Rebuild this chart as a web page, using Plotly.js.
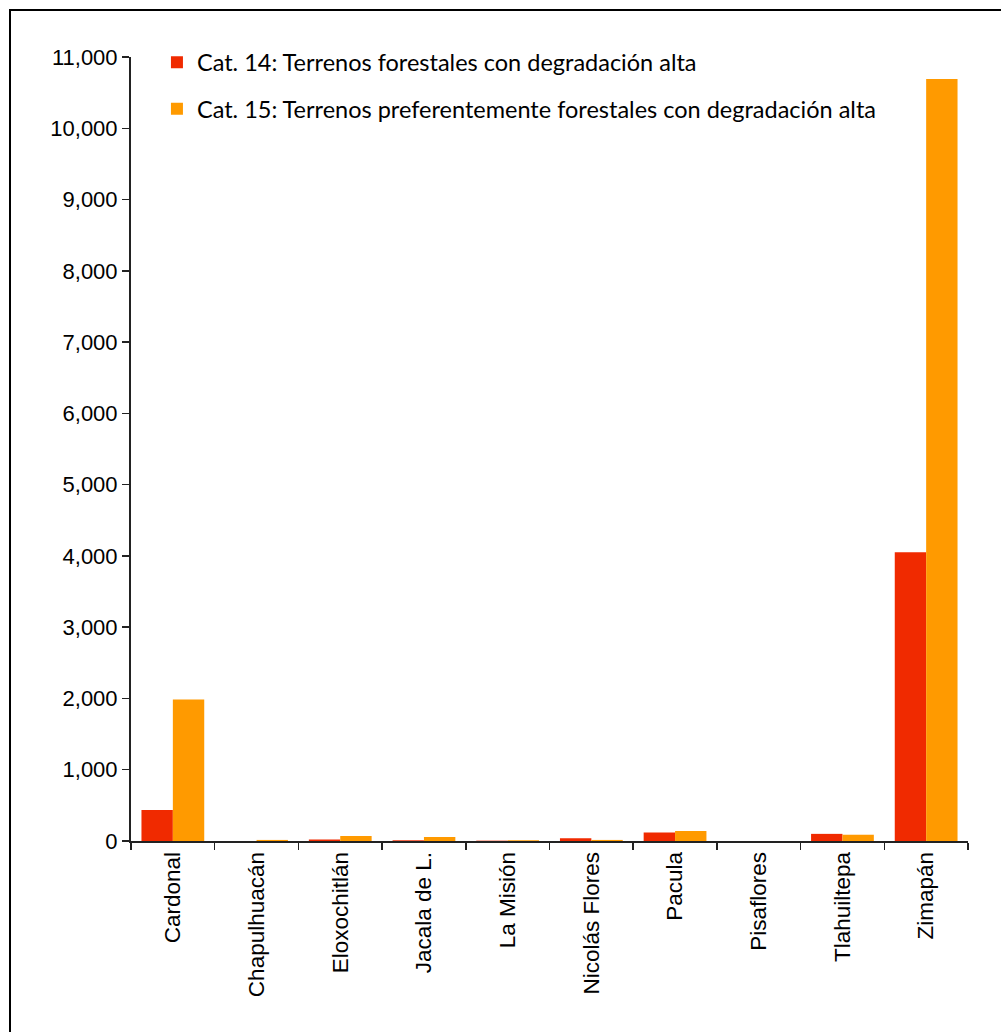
<!DOCTYPE html>
<html>
<head>
<meta charset="utf-8">
<script src="https://cdn.plot.ly/plotly-3.0.1.min.js"></script>
<style>
html,body{margin:0;padding:0;background:#fff;overflow:hidden;}
#chart{width:1001px;height:1032px;}
#frame{position:absolute;left:9px;top:9px;width:1200px;height:1200px;border-left:2px solid #000;border-top:2px solid #000;pointer-events:none;}
</style>
</head>
<body>
<div id="chart"></div>
<div id="frame"></div>
<script>
const municipios = ["Cardonal","Chapulhuacán","Eloxochitlán","Jacala de L.","La Misión","Nicolás Flores","Pacula","Pisaflores","Tlahuiltepa","Zimapán"];
const cat14Name = "Cat. 14: Terrenos forestales con degradación alta";
const cat15Name = "Cat. 15: Terrenos preferentemente forestales con degradación alta";
const cat14 = [435, 0, 20, 10, 5, 38, 120, 0, 100, 4053];
const cat15 = [1987, 15, 70, 55, 10, 15, 140, 0, 88, 10690];
const yTicks = [0,1000,2000,3000,4000,5000,6000,7000,8000,9000,10000,11000];

const traces = [
  {type:'bar', x:municipios, y:cat14, name:cat14Name, legendgroup:'a', marker:{color:'#F02A00'}},
  {type:'bar', x:municipios, y:cat15, name:cat15Name, legendgroup:'b', marker:{color:'#FF9A00'}}
];

const layout = {
  width:1001, height:1032,
  margin:{l:131, r:33, t:57, b:191},
  paper_bgcolor:'#fff', plot_bgcolor:'#fff',
  barmode:'group', bargap:0.25, bargroupgap:0,
  font:{family:'Liberation Sans, Arial, sans-serif', size:22, color:'#000'},
  showlegend:true,
  legend:{x:0.031, y:1.021, xanchor:'left', yanchor:'top', bgcolor:'rgba(0,0,0,0)',
          font:{family:'Lato, Noto Sans, sans-serif', size:23.5, color:'#000'},
          traceorder:'grouped', tracegroupgap:13, itemwidth:30},
  xaxis:{type:'category', showline:true, linecolor:'#222', linewidth:2, ticks:'outside',
         tickson:'boundaries', ticklen:7, tickcolor:'#222', tickwidth:1.5, tickangle:-90,
         showgrid:false, zeroline:false, tickfont:{size:22.5}},
  yaxis:{range:[0,11000], tickvals:yTicks, tickformat:',', showline:true, linecolor:'#222', linewidth:2,
         ticks:'outside', ticklen:7, tickcolor:'#222', tickwidth:1.5, showgrid:false, zeroline:false,
         tickfont:{size:22}}
};

Plotly.newPlot('chart', traces, layout, {displayModeBar:false, staticPlot:true});
</script>
</body>
</html>
